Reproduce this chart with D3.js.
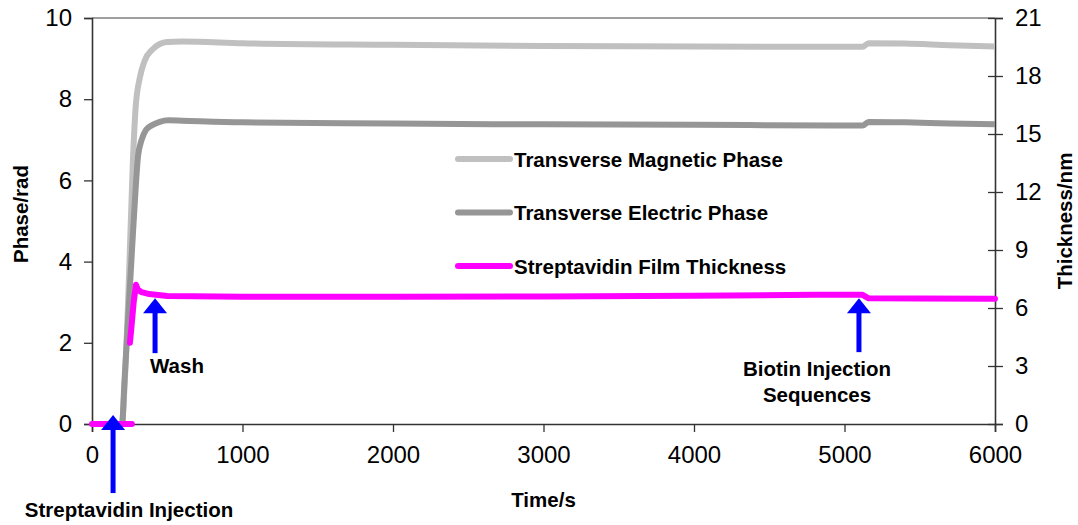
<!DOCTYPE html>
<html>
<head>
<meta charset="utf-8">
<script src="https://cdn.jsdelivr.net/npm/d3@7"></script>
<style>
body{margin:0;background:#fff;}
svg text{font-family:"Liberation Sans",Arial,sans-serif;}
</style>
</head>
<body>
<div id="chart"></div>
<script>
// time (s) / value pairs
var tmTime=[0,200,210,240,272,290,319,350,400,450,500,600,1000,2000,3000,4000,5000,5120,5160,5400,5700,6000];
var tmPhase=[0,0,0.5,3.0,6.5,7.8,8.55,8.95,9.22,9.36,9.41,9.42,9.38,9.34,9.31,9.30,9.29,9.29,9.38,9.37,9.33,9.30];
var teTime=[0,200,215,240,266,290,306,330,360,400,450,505,600,1000,2000,3000,4000,5000,5120,5160,5400,5700,6000];
var tePhase=[0,0,1.0,2.6,4.3,5.8,6.6,7.0,7.25,7.36,7.44,7.48,7.47,7.43,7.40,7.38,7.37,7.35,7.35,7.44,7.43,7.40,7.38];
// film thickness: baseline before injection, then a gap, then the measured film
var sfBaseTime=[0,265];
var sfBaseThick=[0,0];
var sfTime=[252,262,277,292,305,330,380,500,1000,2000,3000,4000,4800,5120,5160,5500,6000];
var sfThick=[4.2,5.0,6.3,7.2,6.95,6.82,6.72,6.62,6.58,6.58,6.60,6.64,6.68,6.68,6.50,6.49,6.48];

var seriesNames=["Transverse Magnetic Phase","Transverse Electric Phase","Streptavidin Film Thickness"];
var seriesColors=["#c0c0c0","#969696","#ff00ff"];

var xTicks=[0,1000,2000,3000,4000,5000,6000];
var yTicks=[0,2,4,6,8,10];
var y2Ticks=[0,3,6,9,12,15,18,21];

// arrows: time, tip value (phase units), label lines
var notes=[
	{t:140,tip:0.22,len:78,label:["Streptavidin Injection"],lx:129,ly:517},
	{t:419,tip:3.1,len:55,label:["Wash"],lx:177,ly:373},
	{t:5096,tip:3.1,len:54,label:["Biotin Injection","Sequences"],lx:817,ly:376}
];

var width=1078,height=525;
var margin={top:18,right:83,bottom:101,left:92};

var svg=d3.select("#chart").append("svg")
	.attr("width",width).attr("height",height);

var x=d3.scaleLinear().domain([0,6000]).range([margin.left,width-margin.right]);
var y=d3.scaleLinear().domain([0,10]).range([height-margin.bottom,margin.top]);
var y2=d3.scaleLinear().domain([0,21]).range([height-margin.bottom,margin.top]);

// top border
svg.append("line")
	.attr("x1",x(0)).attr("x2",x(6000))
	.attr("y1",y(10)).attr("y2",y(10))
	.attr("stroke","#808080").attr("stroke-width",1.5);

//======== axes ========
var axL=svg.append("g").attr("transform","translate("+x(0)+",0)")
	.call(d3.axisLeft(y).tickValues(yTicks).tickSize(8).tickPadding(12).tickFormat(d3.format("d")));
var axB=svg.append("g").attr("transform","translate(0,"+y(0)+")")
	.call(d3.axisBottom(x).tickValues(xTicks).tickSize(8).tickPadding(12).tickFormat(d3.format("d")));
var axR=svg.append("g").attr("transform","translate("+x(6000)+",0)")
	.call(d3.axisRight(y2).tickValues(y2Ticks).tickSize(8).tickPadding(12).tickFormat(d3.format("d")));
axR.selectAll(".tick line").attr("x1",-7);

[axL,axB,axR].forEach(function(a){
	a.select(".domain").attr("stroke","#333").attr("stroke-width",1.6);
	a.selectAll(".tick line").attr("stroke","#333").attr("stroke-width",1.3);
	a.selectAll(".tick text").attr("font-size","24px").attr("fill","#000")
		.style("font-family","'Liberation Sans',Arial,sans-serif");
});
axB.selectAll(".tick text").attr("dy","0.71em").attr("y",22);

// axis titles
svg.append("text").attr("x",x(3000)).attr("y",507)
	.attr("text-anchor","middle").attr("font-size","20.5px").attr("font-weight","bold")
	.text("Time/s");
svg.append("text").attr("transform","translate(28,214) rotate(-90)")
	.attr("text-anchor","middle").attr("font-size","20.5px").attr("font-weight","bold")
	.text("Phase/rad");
svg.append("text").attr("transform","translate(1072,221) rotate(-90)")
	.attr("text-anchor","middle").attr("font-size","20.5px").attr("font-weight","bold")
	.text("Thickness/nm");

//======== lines ========
function pairs(ts,vs){return ts.map(function(t,i){return [t,vs[i]];});}
var linePhase=d3.line().x(function(d){return x(d[0]);}).y(function(d){return y(d[1]);}).curve(d3.curveMonotoneX);
var lineThick=d3.line().x(function(d){return x(d[0]);}).y(function(d){return y2(d[1]);});

svg.append("path").datum(pairs(tmTime,tmPhase))
	.attr("d",linePhase).attr("fill","none")
	.attr("stroke",seriesColors[0]).attr("stroke-width",6).attr("stroke-linejoin","round");
svg.append("path").datum(pairs(teTime,tePhase))
	.attr("d",linePhase).attr("fill","none")
	.attr("stroke",seriesColors[1]).attr("stroke-width",6).attr("stroke-linejoin","round");
[pairs(sfBaseTime,sfBaseThick),pairs(sfTime,sfThick)].forEach(function(seg){
	svg.append("path").datum(seg)
		.attr("d",lineThick).attr("fill","none")
		.attr("stroke",seriesColors[2]).attr("stroke-width",6)
		.attr("stroke-linejoin","round").attr("stroke-linecap","round");
});

//======== legend ========
var leg=svg.append("g").selectAll("g").data(seriesNames).enter().append("g")
	.attr("transform",function(d,i){return "translate(458,"+(159+i*53.5)+")";});
leg.append("line").attr("x1",0).attr("x2",52).attr("y1",0).attr("y2",0)
	.attr("stroke",function(d,i){return seriesColors[i];})
	.attr("stroke-width",6).attr("stroke-linecap","round");
leg.append("text").attr("x",56).attr("y",7.5)
	.attr("font-size","20.5px").attr("font-weight","bold").text(function(d){return d;});

//======== arrows ========
var ann=svg.append("g").selectAll("g").data(notes).enter().append("g");
ann.append("line")
	.attr("x1",function(d){return x(d.t);}).attr("x2",function(d){return x(d.t);})
	.attr("y1",function(d){return y(d.tip)+12;}).attr("y2",function(d){return y(d.tip)+d.len;})
	.attr("stroke","#0000ff").attr("stroke-width",5);
ann.append("path")
	.attr("d",function(d){
		var cx=x(d.t),cy=y(d.tip);
		return "M"+cx+","+cy+"L"+(cx+12)+","+(cy+15)+"L"+(cx-12)+","+(cy+15)+"Z";
	}).attr("fill","#0000ff");
ann.each(function(d){
	var g=d3.select(this);
	d.label.forEach(function(s,i){
		g.append("text").attr("x",d.lx).attr("y",d.ly+i*26)
			.attr("text-anchor","middle").attr("font-size","20.5px").attr("font-weight","bold")
			.text(s);
	});
});
</script>
</body>
</html>
